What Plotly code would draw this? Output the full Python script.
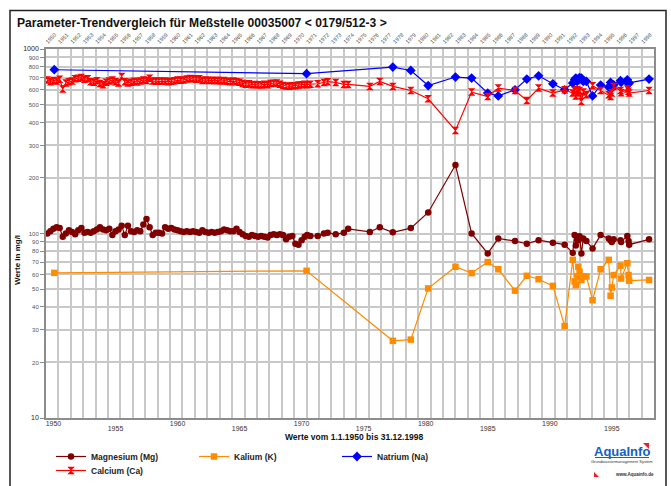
import plotly.graph_objects as go

# ---------------- data ----------------
dates_mg_ca = [
    1950.1, 1950.35, 1950.6, 1950.85, 1951.1, 1951.35, 1951.6, 1951.85,
    1952.1, 1952.35, 1952.6, 1952.85, 1953.1, 1953.35, 1953.6, 1953.85,
    1954.1, 1954.35, 1954.6, 1954.85, 1955.1, 1955.35, 1955.6, 1955.85,
    1956.1, 1956.35, 1956.6, 1956.85, 1957.1, 1957.35, 1957.6, 1957.85,
    1958.1, 1958.35, 1958.6, 1958.85, 1959.1, 1959.35, 1959.6, 1959.85,
    1960.1, 1960.35, 1960.6, 1960.85, 1961.1, 1961.35, 1961.6, 1961.85,
    1962.1, 1962.35, 1962.6, 1962.85, 1963.1, 1963.35, 1963.6, 1963.85,
    1964.1, 1964.35, 1964.6, 1964.85, 1965.1, 1965.35, 1965.6, 1965.85,
    1966.1, 1966.35, 1966.6, 1966.85, 1967.1, 1967.35, 1967.6, 1967.85,
    1968.1, 1968.35, 1968.6, 1968.85, 1969.1, 1969.35, 1969.6, 1969.85,
    1970.1, 1970.35, 1970.6, 1970.85, 1971.05, 1971.3,
    1971.9, 1972.4, 1972.7, 1973.35, 1974.0, 1974.35, 1976.1, 1976.9,
    1977.95, 1979.4, 1980.8, 1983.0, 1984.3, 1985.6, 1986.45, 1987.8,
    1988.75, 1989.7, 1990.85, 1991.8, 1992.45, 1992.6, 1992.7, 1992.8,
    1992.9, 1993.0, 1993.15, 1993.3, 1993.55, 1994.05, 1994.7, 1995.35,
    1995.5, 1995.6, 1995.75, 1996.3, 1996.35, 1996.85, 1996.95, 1997.0,
    1998.6,
]

magnesium = [
    100, 103, 106, 108, 107, 96, 100, 104,
    102, 99, 104, 107, 101, 102, 101, 103,
    105, 108, 105, 104, 106, 98, 103, 105,
    110, 98, 110, 103, 102, 104, 103, 112,
    120, 108, 98, 101, 101, 100, 108, 106,
    107, 105, 104, 103, 102, 103, 102, 103,
    102, 101, 104, 102, 101, 102, 101, 102,
    103, 105, 104, 103, 103, 106, 102, 99,
    97, 96, 98, 97, 96, 97, 96, 95,
    98, 99, 98, 99, 98, 93, 96, 97,
    88, 87, 92, 96, 98, 97,
    97, 100, 101, 99, 101, 106, 102, 108,
    101.5, 107, 130, 235, 100, 78, 94, 91,
    88, 92, 89, 87, 78.5, 98, 86, 96,
    92, 96.5, 78, 94, 91, 83, 98, 94,
    92, 90, 93, 92, 90, 97, 91, 87,
    93,
]

calcium = [
    680, 665, 675, 670, 685, 607, 655, 665,
    670, 690, 695, 700, 685, 690, 665, 660,
    672, 650, 640, 660, 670, 680, 665, 655,
    710, 665, 655, 660, 668, 662, 670, 680,
    675, 695, 670, 668, 670, 668, 670, 665,
    668, 672, 680, 678, 680, 688, 692, 690,
    685, 690, 675, 680, 675, 678, 672, 676,
    670, 674, 668, 665, 670, 665, 660, 650,
    645, 648, 640, 642, 640, 638, 645, 640,
    650, 652, 655, 645, 635, 630, 628, 632,
    632, 638, 640, 645, 640, 645,
    648, 659, 665, 659, 643, 643, 627, 667,
    627, 596, 537, 362, 584, 553, 614, 596,
    526, 614, 577, 601, 577, 596, 557, 601,
    577, 596, 520, 584, 565, 632, 596, 565,
    553, 577, 627, 596, 580, 607, 590, 577,
    596,
]

dates_na_k = [
    1950.67, 1971.0,
    1977.95, 1979.4, 1980.8, 1983.0, 1984.3, 1985.6, 1986.45, 1987.8,
    1988.75, 1989.7, 1990.85, 1991.8, 1992.45, 1992.6, 1992.7, 1992.8,
    1992.9, 1993.0, 1993.15, 1993.3, 1993.55, 1994.05, 1994.7, 1995.35,
    1995.5, 1995.6, 1995.75, 1996.3, 1996.35, 1996.85, 1996.95, 1997.0,
    1998.6,
]

natrium = [
    772, 735,
    798, 765, 634, 705, 696, 577, 557, 601,
    687, 716, 648, 601, 654, 681, 696, 667,
    687, 700, 696, 667, 667, 557, 638, 622,
    659, 614, 640, 673, 660, 681, 648, 655,
    687,
]

kalium = [
    61.2, 62.8,
    26.2, 26.6, 50.4, 66, 61, 70, 64, 49,
    59, 56.5, 52, 31.5, 72, 55, 52.5, 58.5,
    66, 62, 56, 58.5, 58.5, 43.5, 64, 72,
    46, 51, 59.5, 67, 57, 69, 59.5, 55.5,
    56,
]

years_all = list(range(1950, 1999))
labels_decade = [1950, 1960, 1970, 1980, 1990]
labels_half = [1955, 1965, 1975, 1985, 1995]
y_ticks = [10, 20, 30, 40, 50, 60, 70, 80, 90, 100,
           200, 300, 400, 500, 600, 700, 800, 900, 1000]

# ---------------- layout geometry ----------------
W, H = 671, 486
ML, MR, MT, MB = 46, 17, 49, 68
PW, PH = W - ML - MR, H - MT - MB
FONT = "Liberation Sans"


def px2x(px):
    return (px - ML) / PW


def py2y(py):
    return (H - MB - py) / PH


fig = go.Figure()

fig.add_trace(go.Scatter(
    x=dates_mg_ca, y=magnesium, name="Magnesium (Mg)", mode="lines+markers",
    line=dict(color="#800000", width=1.2),
    marker=dict(symbol="circle", size=6.5, color="#800000"),
    legend="legend"))
fig.add_trace(go.Scatter(
    x=dates_na_k, y=kalium, name="Kalium (K)", mode="lines+markers",
    line=dict(color="#ff8c00", width=1.2),
    marker=dict(symbol="square", size=6.5, color="#ff8c00"),
    legend="legend"))
fig.add_trace(go.Scatter(
    x=dates_na_k, y=natrium, name="Natrium (Na)", mode="lines+markers",
    line=dict(color="#0000ff", width=1.2),
    marker=dict(symbol="diamond", size=7.5, color="#0000ff"),
    legend="legend"))
fig.add_trace(go.Scatter(
    x=dates_mg_ca, y=calcium, name="Calcium (Ca)", mode="lines+markers",
    line=dict(color="#ff0000", width=1.2),
    marker=dict(symbol="hourglass", size=7.5, color="#ff0000"),
    legend="legend2"))

# empty helper traces so the extra label axes exist
for ax in ("x2", "x3"):
    fig.add_trace(go.Scatter(x=[], y=[], xaxis=ax, yaxis="y",
                             showlegend=False, hoverinfo="skip"))

grid_col = "#c8c8c8"
axis_col = "#8c8c8c"
xr = [1950, 1999]

ytext = []
for v in y_ticks:
    if v in (10, 1000):
        ytext.append(f"<span style='font-size:7px;color:#222'>{v}</span>")
    else:
        ytext.append(str(v))

fig.update_layout(
    width=W, height=H,
    margin=dict(l=ML, r=MR, t=MT, b=MB, autoexpand=False),
    paper_bgcolor="white", plot_bgcolor="white",
    font=dict(family=FONT, color="#222"),
    title=dict(text="Parameter-Trendvergleich für Meßstelle 00035007 &lt; 0179/512-3 &gt;",
               x=17 / W, xanchor="left", y=1 - 23 / H, yanchor="middle",
               font=dict(family=FONT, size=12.1, weight="bold", color="#111")),
    xaxis=dict(range=xr, side="top", tickmode="array", tickvals=years_all,
               ticktext=[str(y) for y in years_all], tickangle=-45,
               tickfont=dict(size=5.5, color="#444"), ticks="",
               showgrid=True, gridcolor=grid_col, gridwidth=1.5,
               showline=True, linecolor=axis_col, linewidth=2, mirror=True,
               zeroline=False),
    xaxis2=dict(range=xr, overlaying="x", side="bottom", anchor="y",
                tickmode="array", tickvals=[y + 0.6 for y in labels_decade],
                ticktext=[str(y) for y in labels_decade],
                tickfont=dict(size=7, color="#333"), ticks="",
                showgrid=False, zeroline=False, showline=False),
    xaxis3=dict(range=xr, overlaying="x", side="bottom", anchor="y",
                tickmode="array", tickvals=[y + 0.6 for y in labels_half],
                ticktext=[str(y) for y in labels_half],
                tickfont=dict(size=7, color="#333"), ticks="",
                ticklabelstandoff=5,
                showgrid=False, zeroline=False, showline=False),
    yaxis=dict(type="log", range=[1, 3], tickmode="array", tickvals=y_ticks,
               ticktext=ytext, tickfont=dict(size=6, color="#555"),
               ticks="outside", ticklen=4, tickcolor=axis_col,
               showgrid=True, gridcolor=grid_col, gridwidth=1.5,
               showline=True, linecolor=axis_col, linewidth=2, mirror=True,
               zeroline=False),
    legend=dict(orientation="h", x=px2x(51), xanchor="left",
                y=py2y(442), yanchor="top", bgcolor="rgba(0,0,0,0)",
                font=dict(family=FONT, size=8.5, weight="bold", color="#222"),
                entrywidth=98, entrywidthmode="pixels", itemclick=False),
    legend2=dict(orientation="h", x=px2x(51), xanchor="left",
                 y=py2y(456), yanchor="top", bgcolor="rgba(0,0,0,0)",
                 font=dict(family=FONT, size=8.5, weight="bold", color="#222"),
                 itemclick=False),
    showlegend=True,
)

annotations = [
    dict(text="<b>Werte vom 1.1.1950 bis 31.12.1998</b>", x=px2x(354), y=py2y(437),
         font=dict(family=FONT, size=8.5, color="#111")),
    dict(text="<b>Werte in mg/l</b>", x=px2x(17), y=py2y(260), textangle=-90,
         font=dict(family=FONT, size=8, color="#111")),
    dict(text="<b>AquaInfo</b>", x=px2x(622), y=py2y(451.5),
         font=dict(family=FONT, size=13, color="#1560c0")),
    dict(text="Grundwassermanagement System", x=px2x(622), y=py2y(461.5),
         font=dict(family=FONT, size=4, color="#333")),
    dict(text="<b>www.Aquainfo.de</b>", x=px2x(634), y=py2y(474.5),
         font=dict(family=FONT, size=4.5, color="#333")),
]
for a in annotations:
    a.update(xref="paper", yref="paper", showarrow=False,
             xanchor="center", yanchor="middle")
fig.update_layout(annotations=annotations)


def tri(points):
    d = "M " + " L ".join(f"{px2x(a)},{py2y(b)}" for a, b in points) + " Z"
    return dict(type="path", path=d, xref="paper", yref="paper",
                fillcolor="#e8202a", line=dict(width=0))


shapes = [
    dict(type="rect", xref="paper", yref="paper",
         x0=px2x(10), x1=px2x(666), y0=py2y(520), y1=py2y(10.5),
         line=dict(color="#222", width=1.5), fillcolor="rgba(0,0,0,0)", layer="below"),
    dict(type="line", xref="paper", yref="paper",
         x0=px2x(595), x1=px2x(649), y0=py2y(457.5), y1=py2y(457.5),
         line=dict(color="#1560c0", width=1)),
    tri([(643, 443), (649, 443), (649, 449)]),
    tri([(594, 472), (594, 477), (599, 477)]),
]
fig.update_layout(shapes=shapes)

fig.write_html("out.html", config={"displayModeBar": False},
               post_script="document.body.style.margin='0';")
